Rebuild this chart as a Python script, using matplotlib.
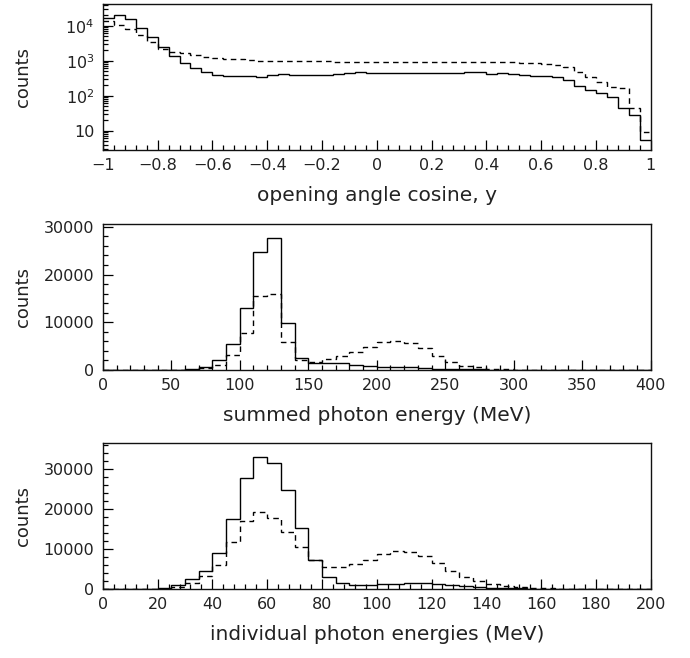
import numpy as np
import matplotlib
matplotlib.use("Agg")
import matplotlib.pyplot as plt
from matplotlib.ticker import MultipleLocator, LogLocator, FuncFormatter, NullFormatter

# Opening angle cosine, 50 bins from -1 to 1
cos_edges = np.linspace(-1, 1, 51)
cos_solid = [16300, 20200, 15500, 8770, 4650, 2410, 1380, 870, 605, 465,
             382, 370, 366, 366, 350, 385, 405, 400, 395, 390,
             400, 405, 445, 460, 450, 445, 450, 440, 445, 450,
             455, 450, 445, 460, 470, 420, 430, 425, 390, 375,
             360, 340, 280, 190, 146, 117, 93, 44, 28, 5.4]
cos_dashed = [13200, 10500, 7900, 5420, 3490, 2120, 1810, 1620, 1460, 1300,
              1190, 1140, 1095, 1050, 980, 980, 980, 980, 980, 980,
              980, 935, 935, 935, 935, 935, 940, 940, 935, 930,
              930, 930, 925, 925, 920, 910, 900, 890, 880, 860,
              820, 760, 680, 480, 335, 251, 174, 170, 44, 9.3]

# Summed photon energy, 40 bins from 0 to 400 MeV
sum_edges = np.linspace(0, 400, 41)
sum_solid = [0, 0, 0, 0, 0, 30, 200, 550, 2000, 5500,
             12900, 24800, 27700, 9900, 2470, 1550, 1400, 1500, 1100, 900,
             650, 600, 550, 450, 300, 250, 200, 150, 100, 60,
             40, 30, 20, 15, 10, 8, 5, 3, 2, 1]
sum_dashed = [0, 0, 0, 0, 0, 0, 80, 440, 1050, 3200,
              7750, 15400, 15900, 5850, 2000, 1700, 2260, 2960, 3740, 4800,
              5780, 6000, 5640, 4580, 3020, 1760, 900, 560, 300, 200,
              100, 60, 40, 30, 20, 10, 5, 5, 5, 5]

# Individual photon energies, 40 bins from 0 to 200 MeV
ind_edges = np.linspace(0, 200, 41)
ind_solid = [0, 0, 0, 0, 150, 930, 2440, 4620, 8990, 17550,
             27880, 33080, 31650, 24850, 15280, 7220, 3110, 1430, 1010, 1090,
             1180, 1260, 1430, 1430, 1340, 1010, 750, 580, 330, 250,
             170, 100, 70, 50, 40, 30, 20, 10, 5, 3]
ind_dashed = [0, 0, 0, 0, 100, 580, 1430, 3270, 6040, 11670,
              17130, 19230, 17720, 14190, 10490, 7220, 5630, 5630, 6300, 7300,
              8740, 9570, 9320, 8310, 6470, 4620, 3110, 2020, 1260, 840,
              500, 330, 170, 80, 50, 30, 20, 10, 5, 3]

plt.rcParams['font.family'] = ['DejaVu Sans']
plt.rcParams['mathtext.default'] = 'regular'
TXT = '#222222'


def style_axis(ax):
    for side in ['left', 'right', 'top', 'bottom']:
        ax.spines[side].set_linewidth(1.0)
        ax.spines[side].set_color('#111111')
    ax.tick_params(which='both', direction='in', top=False, right=False,
                   labelsize=11.5, labelcolor=TXT, width=0.9, pad=6)
    ax.tick_params(which='major', length=7.2)
    ax.tick_params(which='minor', length=3.6)
    ax.set_ylabel('counts', fontsize=13, color=TXT)
    ax.yaxis.set_label_coords(-0.13, 0.5)


def draw_hist(ax, edges, solid, dashed):
    ax.stairs(solid, edges, color='black', linewidth=1.0, baseline=None)
    ax.stairs(dashed, edges, color='black', linewidth=1.0, linestyle=(0, (4, 3)),
              baseline=None)


def fmt_x(v, pos):
    if abs(v) < 1e-9:
        return '0'
    return ('%g' % v).replace('-', '\u2212')


fig = plt.figure(figsize=(6.9, 6.58), dpi=100)

# top: opening angle cosine (log scale)
ax1 = fig.add_axes([0.149, 0.772, 0.794, 0.222])
draw_hist(ax1, cos_edges, cos_solid, cos_dashed)
ax1.set_yscale('log')
ax1.set_xlim(-1, 1)
ax1.set_ylim(2.8, 41700)
ax1.xaxis.set_major_locator(MultipleLocator(0.2))
ax1.xaxis.set_minor_locator(MultipleLocator(0.04))
ax1.xaxis.set_major_formatter(FuncFormatter(fmt_x))
ax1.yaxis.set_major_locator(LogLocator(base=10, numticks=10))
ax1.yaxis.set_minor_locator(LogLocator(base=10, subs=np.arange(2, 10), numticks=10))
ax1.yaxis.set_minor_formatter(NullFormatter())
ax1.yaxis.set_major_formatter(FuncFormatter(
    lambda v, p: '10' if abs(v - 10) < 1e-6 else '$10^{%d}$' % round(np.log10(v))))
style_axis(ax1)
ax1.set_xlabel('opening angle cosine, y', fontsize=14.5, color=TXT, labelpad=9)

# middle: summed photon energy
ax2 = fig.add_axes([0.149, 0.4377, 0.794, 0.222])
draw_hist(ax2, sum_edges, sum_solid, sum_dashed)
ax2.set_xlim(0, 400)
ax2.set_ylim(0, 30600)
ax2.xaxis.set_major_locator(MultipleLocator(50))
ax2.xaxis.set_minor_locator(MultipleLocator(10))
ax2.yaxis.set_major_locator(MultipleLocator(10000))
ax2.yaxis.set_minor_locator(MultipleLocator(2000))
style_axis(ax2)
ax2.set_xlabel('summed photon energy (MeV)', fontsize=14.5, color=TXT, labelpad=9)

# bottom: individual photon energies
ax3 = fig.add_axes([0.149, 0.1049, 0.794, 0.222])
draw_hist(ax3, ind_edges, ind_solid, ind_dashed)
ax3.set_xlim(0, 200)
ax3.set_ylim(0, 36600)
ax3.xaxis.set_major_locator(MultipleLocator(20))
ax3.xaxis.set_minor_locator(MultipleLocator(4))
ax3.yaxis.set_major_locator(MultipleLocator(10000))
ax3.yaxis.set_minor_locator(MultipleLocator(2000))
style_axis(ax3)
ax3.set_xlabel('individual photon energies (MeV)', fontsize=14.5, color=TXT, labelpad=9)

fig.savefig('out.png', dpi=100)
